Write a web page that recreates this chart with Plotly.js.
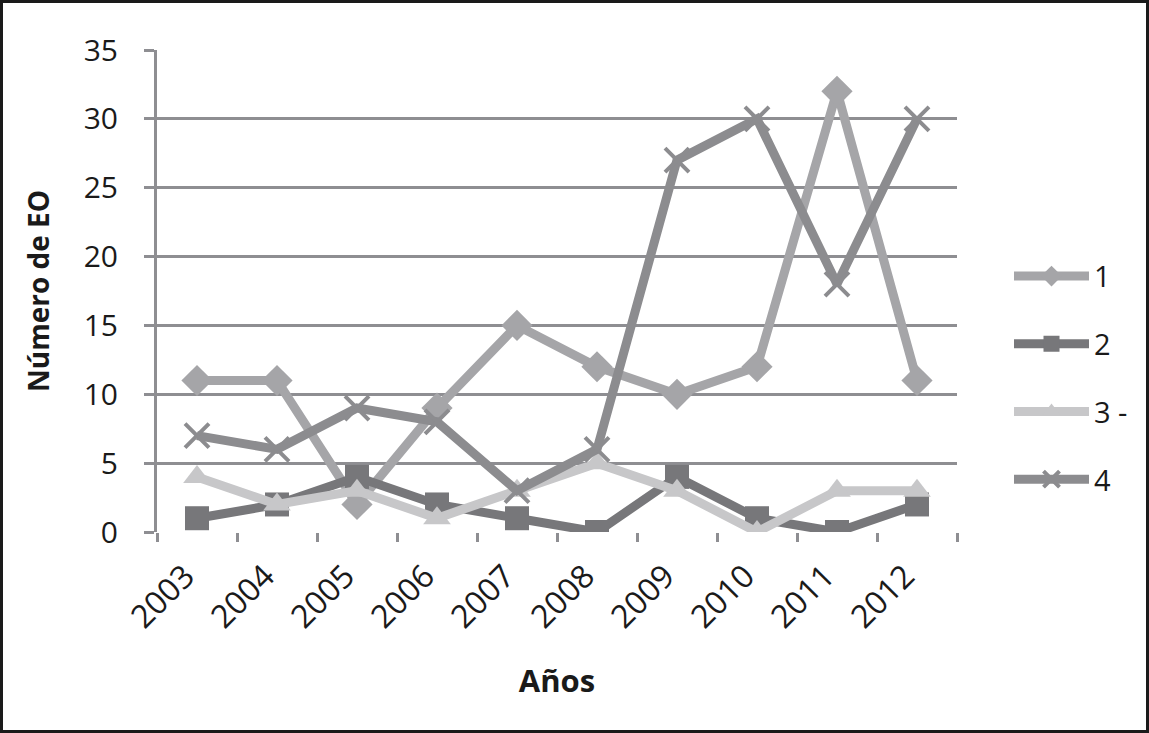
<!DOCTYPE html>
<html>
<head>
<meta charset="utf-8">
<script src="https://cdn.plot.ly/plotly-3.0.1.min.js"></script>
<style>
html,body{margin:0;padding:0;background:#fff;}
#chart{width:1149px;height:733px;}
#frame{position:absolute;left:0;top:0;width:1149px;height:733px;box-sizing:border-box;border:3px solid #1a1a1a;pointer-events:none;}
</style>
</head>
<body>
<div id="chart"></div>
<div id="frame"></div>
<script>
const years = ['2003','2004','2005','2006','2007','2008','2009','2010','2011','2012'];
const s1 = [11, 11, 2, 9, 15, 12, 10, 12, 32, 11];
const s2 = [1, 2, 4, 2, 1, 0, 4, 1, 0, 2];
const s3 = [4, 2, 3, 1, 3, 5, 3, 0, 3, 3];
const s4 = [7, 6, 9, 8, 3, 6, 27, 30, 18, 30];
const names = ['1', '2', '3 -', '4'];

const c1 = '#a5a5a8', c2 = '#77777a', c3 = '#c7c7c9', c4 = '#8c8c8f';
const lw = 9;
const traces = [
  {x: years, y: s1, name: names[0], legendgroup: 'g1', type: 'scatter', mode: 'lines+markers',
   line: {color: c1, width: lw}, marker: {symbol: 'diamond', size: 24, color: c1}},
  {x: years, y: s2, name: names[1], legendgroup: 'g2', type: 'scatter', mode: 'lines+markers',
   line: {color: c2, width: lw}, marker: {symbol: 'square', size: 24, color: c2}},
  {x: years, y: s3, name: names[2], legendgroup: 'g3', type: 'scatter', mode: 'lines+markers',
   line: {color: c3, width: lw}, marker: {symbol: 'triangle-up', size: 24, color: c3}},
  {x: years, y: s4, name: names[3], legendgroup: 'g4', type: 'scatter', mode: 'lines+markers',
   line: {color: c4, width: lw}, marker: {symbol: 'x-thin', size: 24, color: c4, line: {color: c4, width: 4}}}
];

const font = {family: '"Open Sans", "Noto Sans", sans-serif', color: '#1a1a1a'};
const layout = {
  width: 1149, height: 733,
  margin: {l: 157, r: 192, t: 50, b: 201},
  paper_bgcolor: '#fff', plot_bgcolor: '#fff',
  font: Object.assign({size: 26}, font),
  showlegend: true,
  legend: {x: 1.065, y: 0.32, xanchor: 'left', yanchor: 'middle',
           font: Object.assign({size: 29}, font), tracegroupgap: 27, itemwidth: 75,
           bgcolor: 'rgba(0,0,0,0)'},
  xaxis: {type: 'category', range: [-0.5, 9.5], autorange: false,
          tickangle: -45, ticks: 'outside', tickson: 'boundaries',
          ticklen: 9, tickwidth: 3, tickcolor: '#8e8e92',
          showline: false, showgrid: false, zeroline: false,
          tickfont: Object.assign({size: 32}, font), ticklabelstandoff: 18, ticklabelshift: -12,
          title: {text: '<b>Años</b>', font: Object.assign({size: 31}, font), standoff: 34}},
  yaxis: {range: [0, 35], dtick: 5, ticks: 'outside', ticklen: 10, tickwidth: 3, tickcolor: '#8e8e92',
          showline: true, linecolor: '#8e8e92', linewidth: 3,
          showgrid: true, gridcolor: '#8e8e92', gridwidth: 3, zeroline: false,
          tickfont: Object.assign({size: 30}, font), ticklabelstandoff: 20,
          title: {text: '<b>Número de EO</b>', font: Object.assign({size: 28}, font), standoff: 26}}
};
Plotly.newPlot('chart', traces, layout, {displayModeBar: false, staticPlot: true});
</script>
</body>
</html>
